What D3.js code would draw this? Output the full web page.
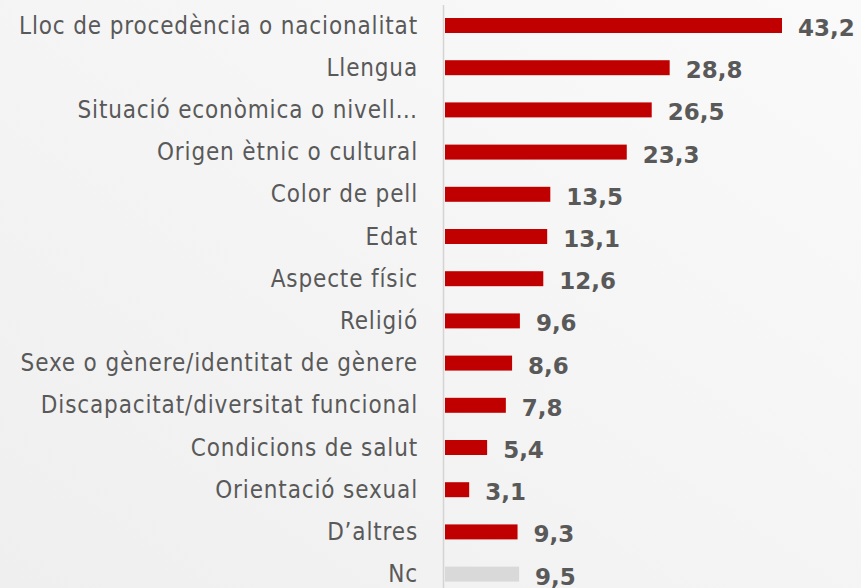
<!DOCTYPE html>
<html>
<head>
<meta charset="utf-8">
<script src="https://cdn.jsdelivr.net/npm/d3@7"></script>
<style>
  body { margin: 0; background: #f2f2f2; }
  svg { display: block; }
</style>
</head>
<body>
<svg width="861" height="588"></svg>
<script>
const categories = [
    "Lloc de procedència o nacionalitat",
    "Llengua",
    "Situació econòmica o nivell…",
    "Origen ètnic o cultural",
    "Color de pell",
    "Edat",
    "Aspecte físic",
    "Religió",
    "Sexe o gènere/identitat de gènere",
    "Discapacitat/diversitat funcional",
    "Condicions de salut",
    "Orientació sexual",
    "D’altres",
    "Nc"
];
const values = [43.2, 28.8, 26.5, 23.3, 13.5, 13.1, 12.6, 9.6, 8.6, 7.8, 5.4, 3.1, 9.3, 9.5];
const greyed = ["Nc"];

const svg = d3.select("svg");
const width = +svg.attr("width");
const height = +svg.attr("height");

const defs = svg.append("defs");
const grad = defs.append("linearGradient")
    .attr("id", "bg")
    .attr("x1", "0").attr("y1", "1").attr("x2", "1").attr("y2", "0");
grad.append("stop").attr("offset", "0").attr("stop-color", "#efefef");
grad.append("stop").attr("offset", "1").attr("stop-color", "#fafafa");
svg.append("rect").attr("width", width).attr("height", height).attr("fill", "url(#bg)");

const data = categories.map((c, i) => ({ name: c, value: values[i] }));

const x0 = 445;
const x = d3.scaleLinear().domain([0, 43.2]).range([x0, 782]);
const y = d3.scaleBand()
    .domain(categories)
    .range([4.4, 4.4 + 42.2 * categories.length])
    .paddingInner(0.645)
    .paddingOuter(0.3225);

const g = svg.append("g");

g.append("line")
    .attr("x1", x0 - 1.5).attr("x2", x0 - 1.5)
    .attr("y1", 5).attr("y2", height)
    .attr("stroke", "#d4d4d4")
    .attr("stroke-width", 1.5);

g.selectAll("rect.bar")
    .data(data)
    .join("rect")
    .attr("class", "bar")
    .attr("x", x0)
    .attr("y", d => y(d.name))
    .attr("width", d => x(d.value) - x0)
    .attr("height", y.bandwidth())
    .attr("fill", d => greyed.includes(d.name) ? "#d9d9d9" : "#c00000");

g.selectAll("text.cat")
    .data(data)
    .join("text")
    .attr("class", "cat")
    .attr("x", 418)
    .attr("y", d => y(d.name) + y.bandwidth() / 2)
    .attr("text-anchor", "end")
    .attr("dominant-baseline", "central")
    .attr("font-family", "'DejaVu Sans Condensed', 'DejaVu Sans', sans-serif")
    .attr("font-size", 24)
    .attr("letter-spacing", 0.85)
    .attr("fill", "#595959")
    .text(d => d.name);

g.selectAll("text.val")
    .data(data)
    .join("text")
    .attr("class", "val")
    .attr("x", d => x(d.value) + 16)
    .attr("y", d => y(d.name) + y.bandwidth() / 2 + 2.5)
    .attr("dominant-baseline", "central")
    .attr("font-family", "'DejaVu Sans', sans-serif")
    .attr("font-weight", "bold")
    .attr("font-size", 23)
    .attr("fill", "#595959")
    .text(d => d3.format(".1f")(d.value).replace(".", ","));
</script>
</body>
</html>
